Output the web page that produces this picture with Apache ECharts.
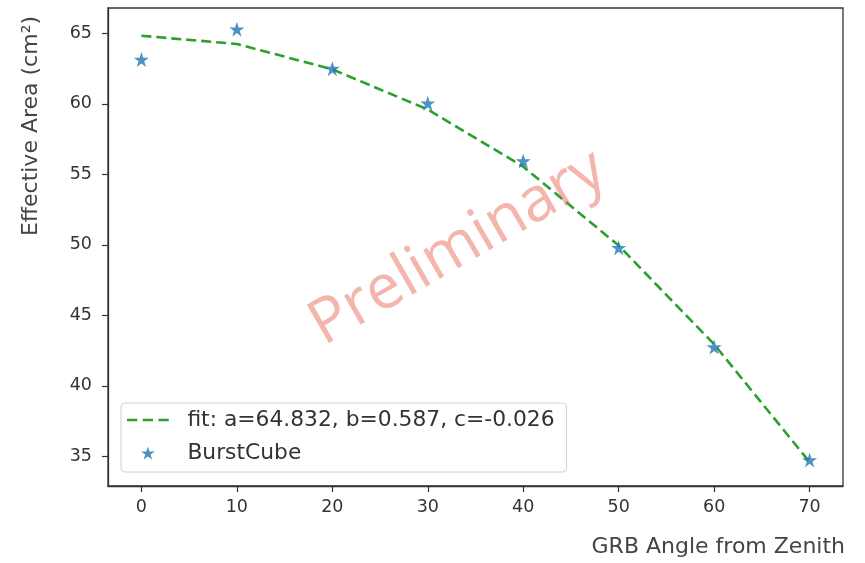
<!DOCTYPE html>
<html><head><meta charset="utf-8">
<script src="https://cdn.jsdelivr.net/npm/echarts@6/dist/echarts.min.js"></script>
<style>html,body{margin:0;padding:0;background:#fff}#c{width:865px;height:563px}</style>
</head><body><div id="c"></div>
<script>
const angles = [0, 10, 20, 30, 40, 50, 60, 70];
const burstCube = [63.15, 65.3, 62.5, 60.05, 55.95, 49.8, 42.75, 34.75];
const fitValues = [64.83, 64.25, 62.45, 59.6, 55.55, 49.95, 42.95, 34.6];
const xTicks = [0, 10, 20, 30, 40, 50, 60, 70];
const yTicks = [35, 40, 45, 50, 55, 60, 65];
const fitLabel = 'fit: a=64.832, b=0.587, c=-0.026';
const scatterLabel = 'BurstCube';

const star = 'path://M50,2 L61.2,36.2 L97.6,36.2 L68.2,57.4 L79.4,91.6 L50,70.4 L20.6,91.6 L31.8,57.4 L2.4,36.2 L38.8,36.2 Z';
const dashIcon = 'path://M0,0 L0.01,0 L0.01,14 L0,14 Z M0,5.6 L11,5.6 L11,8.4 L0,8.4 Z M17,5.6 L28,5.6 L28,8.4 L17,8.4 Z M34,5.6 L45,5.6 L45,8.4 L34,8.4 Z';
const font = 'DejaVu Sans';
const chart = echarts.init(document.getElementById('c'));
chart.setOption({
  animation: false,
  textStyle: {fontFamily: font},
  grid: {left: 108, right: 22, top: 8, bottom: 77, show: true, borderColor: '#333', borderWidth: 1.3, backgroundColor: 'transparent'},
  xAxis: {
    type: 'value', min: -3.5, max: 73.5,
    axisLine: {onZero: false, lineStyle: {color: '#333', width: 1.3}},
    axisTick: {customValues: xTicks, length: 6, lineStyle: {color: '#333', width: 1.2}},
    axisLabel: {customValues: xTicks, color: '#333', fontSize: 17.5, margin: 12, fontFamily: font},
    splitLine: {show: false}
  },
  yAxis: {
    type: 'value', min: 32.9, max: 66.8,
    axisLine: {show: true, onZero: false, lineStyle: {color: '#333', width: 1.3}},
    axisTick: {show: true, customValues: yTicks, length: 6, lineStyle: {color: '#333', width: 1.2}},
    axisLabel: {customValues: yTicks, color: '#333', fontSize: 17.5, margin: 16, fontFamily: font},
    splitLine: {show: false}
  },
  legend: {
    orient: 'vertical', left: 121, top: 403,
    padding: [6, 12, 8, 6], itemGap: 11, itemWidth: 45, itemHeight: 13,
    backgroundColor: 'rgba(255,255,255,0.8)', borderColor: '#d0d0d0', borderWidth: 1, borderRadius: 4,
    textStyle: {fontSize: 21.8, color: '#333', fontFamily: font, padding: [0, 0, 0, 12]},
    data: [
      {name: fitLabel, icon: dashIcon, itemStyle: {color: '#2ca02c'}},
      {name: scatterLabel, icon: star, itemStyle: {color: '#1f77b4'}}
    ]
  },
  series: [
    {
      name: fitLabel, type: 'line', data: angles.map((a, i) => [a, fitValues[i]]),
      symbol: 'none', smooth: false, z: 2,
      lineStyle: {color: '#2ca02c', width: 2.6, type: [10, 5]},
      itemStyle: {color: '#2ca02c'}
    },
    {
      name: scatterLabel, type: 'scatter', data: angles.map((a, i) => [a, burstCube[i]]),
      symbol: star, symbolSize: 15, z: 3,
      itemStyle: {color: '#1f77b4'}
    }
  ],
  graphic: [
    {type: 'text', x: 845, y: 547, style: {text: 'GRB Angle from Zenith', fontSize: 22, fill: '#444', fontFamily: font, align: 'right', verticalAlign: 'middle'}},
    {type: 'text', x: 31, y: 126, rotation: Math.PI / 2, style: {text: 'Effective Area (cm²)', fontSize: 22, fill: '#444', fontFamily: font, align: 'center', verticalAlign: 'middle'}},
    {type: 'text', x: 458, y: 248, rotation: Math.PI / 6, z: 10, style: {text: 'Preliminary', fontSize: 62, fill: 'rgba(232,108,90,0.5)', fontFamily: 'Open Sans', align: 'center', verticalAlign: 'middle'}}
  ]
});
</script></body></html>
